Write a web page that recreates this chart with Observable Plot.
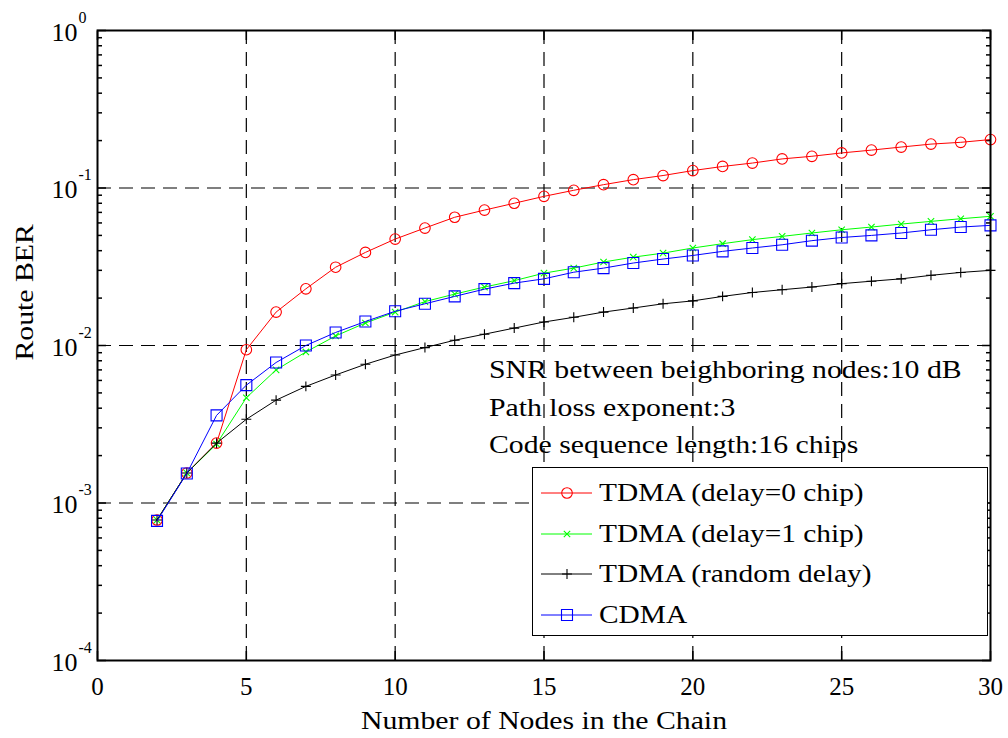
<!DOCTYPE html>
<html>
<head>
<meta charset="utf-8">
<script src="https://cdn.jsdelivr.net/npm/d3@7"></script>
<script src="https://cdn.jsdelivr.net/npm/@observablehq/plot@0.6"></script>
<style>
  html, body { margin: 0; padding: 0; background: #fff; }
  #wrap { position: relative; width: 1008px; height: 738px; font-family: "Liberation Serif", "Times New Roman", serif; }
  #wrap svg { display: block; }
  .note { position: absolute; left: 489px; font-size: 25px; white-space: nowrap; color: #000; line-height: 1; transform: scaleX(1.19); transform-origin: 0 50%; }
  #legend { position: absolute; left: 532px; top: 467px; width: 456px; height: 169px; border: 1.5px solid #000; background: #fff; box-sizing: border-box; }
  .lrow { position: absolute; left: 0; height: 40px; display: flex; align-items: center; }
  .lrow span { font-size: 26px; white-space: nowrap; margin-left: 4px; transform: scaleX(1.13); transform-origin: 0 50%; display: inline-block; }
</style>
</head>
<body>
<div id="wrap"></div>
<script>
// ---- data ----
const nodes = [2,3,4,5,6,7,8,9,10,11,12,13,14,15,16,17,18,19,20,21,22,23,24,25,26,27,28,29,30];
const tdmaDelay0 = [0.00078,0.00155,0.0024,0.0094,0.0163,0.0229,0.0314,0.039,0.0474,0.0557,0.0652,0.0724,0.080,0.0885,0.0967,0.105,0.113,0.120,0.129,0.137,0.144,0.153,0.159,0.167,0.174,0.182,0.190,0.195,0.203];
const tdmaDelay1 = [0.00078,0.00155,0.00237,0.00466,0.0070,0.0091,0.0115,0.0139,0.0163,0.0190,0.0212,0.0235,0.0258,0.0288,0.0310,0.0339,0.0364,0.0386,0.0416,0.0443,0.0470,0.0493,0.0518,0.0543,0.0565,0.0590,0.0614,0.0638,0.0661];
const tdmaRandom = [0.00078,0.00155,0.0024,0.0034,0.0045,0.0055,0.0065,0.0076,0.0087,0.0097,0.0108,0.0118,0.0129,0.0141,0.0151,0.0163,0.0173,0.0184,0.0192,0.0205,0.0217,0.0226,0.0235,0.0247,0.0256,0.0265,0.0279,0.0291,0.0300];
const cdma = [0.00077,0.00154,0.0036,0.0056,0.0078,0.0100,0.0121,0.0142,0.0165,0.0184,0.0205,0.0228,0.0249,0.0265,0.0292,0.0310,0.0334,0.0354,0.0373,0.0396,0.0416,0.0436,0.0463,0.0485,0.0500,0.0518,0.0543,0.0565,0.0579];

const seriesNames = ["TDMA (delay=0 chip)", "TDMA (delay=1 chip)", "TDMA (random delay)", "CDMA"];
const seriesColors = ["#ff0000", "#00ff00", "#000000", "#0000ff"];
const seriesSymbols = ["circle", "times", "plus", "square"];
const seriesR = [5.3, 3.0, 3.3, 6.2];

const xTicks = [0,5,10,15,20,25,30];
const yTicks = [1e-4,1e-3,1e-2,1e-1,1];
const yTickExp = ["-4","-3","-2","-1","0"];
const yMinor = [];
for (let e = -4; e < 0; e++) for (let m = 2; m <= 9; m++) yMinor.push(m * Math.pow(10, e));

const notes = ["SNR between beighboring nodes:10 dB", "Path loss exponent:3", "Code sequence length:16 chips"];
const xLabel = "Number of Nodes in the Chain";
const yLabel = "Route BER";

// ---- build ----
const allSeries = [tdmaDelay0, tdmaDelay1, tdmaRandom, cdma];
const seriesMarks = allSeries.flatMap((vals, i) => {
  const d = nodes.map((n, j) => ({x: n, y: vals[j]}));
  return [
    Plot.line(d, {x: "x", y: "y", stroke: seriesColors[i], strokeWidth: 1}),
    Plot.dot(d, {x: "x", y: "y", stroke: seriesColors[i], symbol: seriesSymbols[i], r: seriesR[i], fill: "none", strokeWidth: 1.1})
  ];
});
const font = "Liberation Serif, Times New Roman, serif";
const innerX = xTicks.slice(1, -1);
const innerY = yTicks.slice(1, -1);

const chart = Plot.plot({
  width: 1008,
  height: 738,
  marginLeft: 97,
  marginRight: 18,
  marginTop: 30,
  marginBottom: 78,
  style: {fontFamily: font, background: "white"},
  x: {domain: [0, 30]},
  y: {type: "log", domain: [1e-4, 1]},
  marks: [
    Plot.ruleX(innerX, {stroke: "#000", strokeWidth: 1.2, strokeDasharray: "14,8"}),
    Plot.ruleY(innerY, {stroke: "#000", strokeWidth: 1.2, strokeDasharray: "14,8"}),
    Plot.axisY({anchor: "left", ticks: yMinor, tickSize: -5, tickFormat: () => "", label: null, strokeWidth: 1.5}),
    Plot.axisY({anchor: "right", ticks: yMinor, tickSize: -5, tickFormat: () => "", label: null, strokeWidth: 1.5}),
    Plot.axisY({anchor: "left", ticks: yTicks, tickSize: -9, tickFormat: () => "", label: null, strokeWidth: 1.5}),
    Plot.axisY({anchor: "right", ticks: yTicks, tickSize: -9, tickFormat: () => "", label: null, strokeWidth: 1.5}),
    Plot.axisX({anchor: "bottom", ticks: xTicks, tickSize: -9, tickFormat: () => "", label: null, strokeWidth: 1.5}),
    Plot.axisX({anchor: "top", ticks: xTicks, tickSize: -9, tickFormat: () => "", label: null, strokeWidth: 1.5}),
    Plot.text(xTicks, {x: d => d, frameAnchor: "bottom", text: d => String(d), lineAnchor: "bottom", dy: 34, fontSize: 25, fill: "#000"}),
    Plot.text(yTicks, {y: d => d, frameAnchor: "left", text: () => "10", textAnchor: "end", lineAnchor: "bottom", dx: -20, dy: 10, fontSize: 26, fill: "#000"}),
    Plot.text(yTicks.map((v, i) => ({v, e: yTickExp[i]})), {y: "v", frameAnchor: "left", text: "e", textAnchor: "start", lineAnchor: "bottom", dx: -19, dy: -8, fontSize: 16, fill: "#000"}),
    Plot.text([xLabel], {frameAnchor: "bottom", text: d => d, lineAnchor: "bottom", dy: 68, fontSize: 25, fill: "#000", className: "stretch-title"}),
    Plot.text([yLabel], {frameAnchor: "left", text: d => d, rotate: -90, lineAnchor: "bottom", dx: -65, dy: 15, fontSize: 25, fill: "#000", className: "stretch-title"}),
    ...seriesMarks,
    Plot.frame({stroke: "#000", strokeWidth: 2})
  ]
});

const wrap = document.getElementById("wrap");
wrap.appendChild(chart);

// widen axis titles to match the reference's wide serif lettering
d3.select(chart).selectAll(".stretch-title text").each(function() {
  const L = this.getComputedTextLength();
  this.setAttribute("textLength", L * 1.19);
  this.setAttribute("lengthAdjust", "spacingAndGlyphs");
});

// annotation
const noteTops = [357, 395, 432];
notes.forEach((t, i) => {
  const el = document.createElement("div");
  el.className = "note";
  el.style.top = noteTops[i] + "px";
  el.textContent = t;
  wrap.appendChild(el);
});

// legend
const legend = document.createElement("div");
legend.id = "legend";
const ns = "http://www.w3.org/2000/svg";
seriesNames.forEach((name, i) => {
  const row = document.createElement("div");
  row.className = "lrow";
  row.style.top = (5 + i * 40.5) + "px";
  const svg = document.createElementNS(ns, "svg");
  svg.setAttribute("width", 62);
  svg.setAttribute("height", 40);
  svg.style.flex = "none";
  const line = document.createElementNS(ns, "line");
  line.setAttribute("x1", 8); line.setAttribute("x2", 59);
  line.setAttribute("y1", 20); line.setAttribute("y2", 20);
  line.setAttribute("stroke", seriesColors[i]); line.setAttribute("stroke-width", 1);
  svg.appendChild(line);
  const sym = {circle: d3.symbolCircle, times: d3.symbolTimes, plus: d3.symbolPlus, square: d3.symbolSquare}[seriesSymbols[i]];
  const p = document.createElementNS(ns, "path");
  p.setAttribute("d", d3.symbol(sym, Math.PI * seriesR[i] * seriesR[i])());
  p.setAttribute("transform", "translate(34,20)");
  p.setAttribute("fill", "none");
  p.setAttribute("stroke", seriesColors[i]);
  p.setAttribute("stroke-width", 1.1);
  svg.appendChild(p);
  row.appendChild(svg);
  const s = document.createElement("span");
  s.textContent = name;
  row.appendChild(s);
  legend.appendChild(row);
});
wrap.appendChild(legend);
</script>
</body>
</html>
